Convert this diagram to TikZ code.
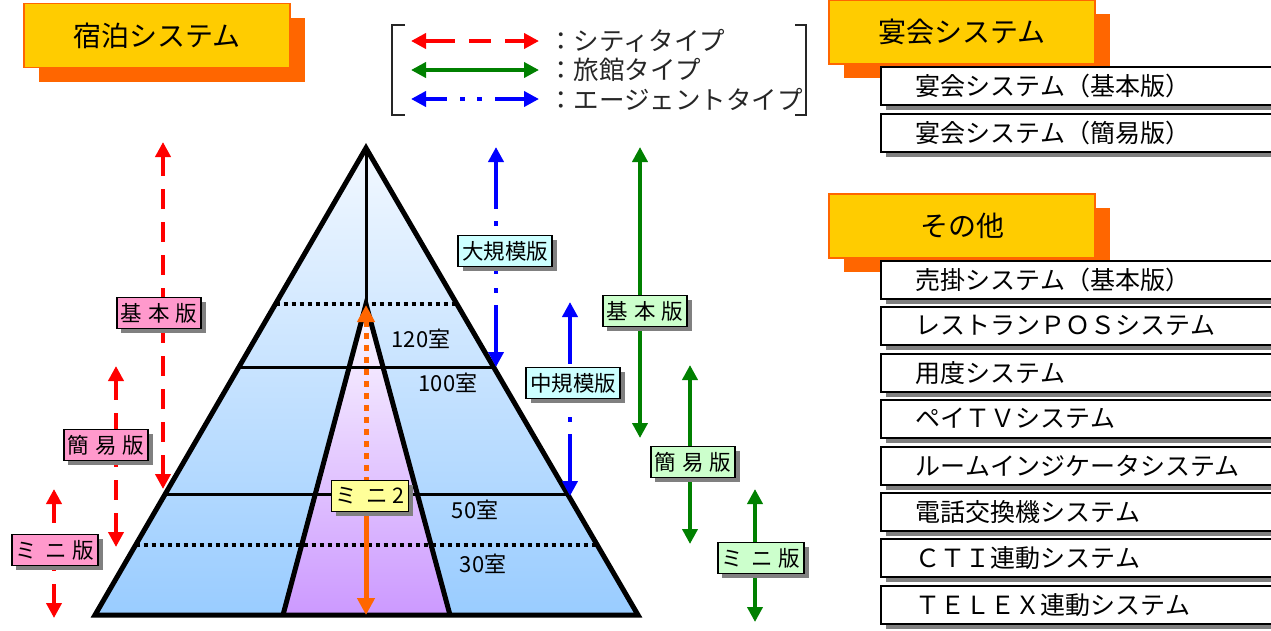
\documentclass[tikz,border=0pt]{standalone}
\usepackage{fontspec}
\setmainfont{Noto Sans CJK JP}
\usetikzlibrary{arrows.meta,shadows}
\definecolor{ttlfill}{RGB}{255,204,0}
\definecolor{ttlorange}{RGB}{255,102,0}
\definecolor{pinkfill}{RGB}{255,153,204}
\definecolor{cyanfill}{RGB}{204,255,255}
\definecolor{greenfill}{RGB}{204,255,204}
\definecolor{yellowfill}{RGB}{255,255,153}
\definecolor{cityred}{RGB}{255,0,0}
\definecolor{ryokangreen}{RGB}{0,128,0}
\definecolor{agentblue}{RGB}{0,0,255}
\definecolor{pyrtop}{RGB}{242,248,255}
\definecolor{pyrbot}{RGB}{153,204,255}
\definecolor{intop}{RGB}{252,250,255}
\definecolor{inbot}{RGB}{204,153,255}
\definecolor{shadowgray}{RGB}{128,128,128}
\tikzset{
  Tr/.tip={Triangle[width=15pt,length=15pt]},
  Tb/.tip={Triangle[width=17pt,length=17pt]},
  titlebox/.style={draw=ttlorange, line width=1.5pt, fill=ttlfill, minimum width=266pt, minimum height=64pt, inner sep=0pt,
    font=\fontsize{28pt}{32pt}\selectfont,
    drop shadow={shadow xshift=15pt, shadow yshift=-14pt, fill=ttlorange, opacity=1}},
  listbox/.style={draw=black, line width=1.5pt, fill=white, anchor=north west, minimum height=38pt, text width=391pt,
    inner xsep=0pt, inner ysep=0pt, align=left, font=\fontsize{25pt}{29pt}\selectfont,
    drop shadow={shadow xshift=5pt, shadow yshift=-5pt, fill=shadowgray, opacity=1}},
  lbl/.style={draw=black, line width=1.8pt, minimum height=31pt, inner xsep=4pt, inner ysep=0pt,
    font=\fontsize{21.5pt}{24pt}\selectfont,
    drop shadow={shadow xshift=4.5pt, shadow yshift=-4.5pt, fill=shadowgray, opacity=1}},
  citylbl/.style={lbl, fill=pinkfill},
  agentlbl/.style={lbl, fill=cyanfill},
  ryokanlbl/.style={lbl, fill=greenfill},
  minilbl/.style={lbl, fill=yellowfill},
  cityline/.style={cityred, line width=4pt, dash pattern=on 20pt off 13pt},
  ryokanline/.style={ryokangreen, line width=4pt},
  agentline/.style={agentblue, line width=4pt, dash pattern=on 48pt off 12pt on 5pt off 14pt on 5pt off 14pt},
  roomtxt/.style={font=\fontsize{22pt}{26pt}\selectfont, inner sep=0pt},
  legtxt/.style={font=\fontsize{25.5pt}{29pt}\selectfont, inner sep=0pt, anchor=west, text=black!85},
}
\begin{document}
\begin{tikzpicture}[x=1pt,y=-1pt]
\useasboundingbox (0,0) rectangle (1271,630);

% ---------- Pyramid ----------
\coordinate (A) at (366,148);
\coordinate (BL) at (95,615);
\coordinate (BR) at (638,615);
\coordinate (IA) at (366,304);
\coordinate (IL) at (283,615);
\coordinate (IR) at (450,615);
\shade[top color=pyrtop, bottom color=pyrbot] (A) -- (BR) -- (BL) -- cycle;
\shade[top color=intop, bottom color=inbot] (IA) -- (IR) -- (IL) -- cycle;
\coordinate (h1l) at (238.9,367); \coordinate (h1r) at (493.6,367);
\coordinate (h2l) at (165.2,494); \coordinate (h2r) at (567.6,494);
\coordinate (d1l) at (275.5,304); \coordinate (d1r) at (456.8,304);
\coordinate (d2l) at (135.6,545); \coordinate (d2r) at (597.2,545);
\draw[line width=3pt] (h1l) -- (h1r);
\draw[line width=3pt] (h2l) -- (h2r);
\draw[line width=3.5pt, dash pattern=on 4pt off 4pt] (d1l) -- (d1r);
\draw[line width=3.5pt, dash pattern=on 4pt off 4pt] (d2l) -- (d2r);
\draw[line width=3pt] (A) -- (IA);
\draw[line width=5pt, line join=miter] (IL) -- (IA) -- (IR);
\draw[line width=5pt, line join=miter] (A) -- (BR) -- (BL) -- cycle;

\node[roomtxt] (r120) at (421,339) {120室};
\node[roomtxt] (r100) at (448,383) {100室};
\node[roomtxt] (r50) at (475,510) {50室};
\node[roomtxt] (r30) at (483,564) {30室};

% ---------- Orange mini2 arrow ----------
\coordinate (ot) at (366,305);
\coordinate (ob) at (366,615);
\node[minilbl] (mini2) at (370,496) {ミ\hspace{9pt}ニ\hspace{5pt}2};
\draw[ttlorange, line width=5pt, dash pattern=on 6pt off 6pt, {Tb}-] (ot) -- (ot |- mini2.north);
\draw[ttlorange, line width=5pt, -{Tb}] (ob |- mini2.south) -- (ob);
\node[minilbl] at (370,496) {ミ\hspace{9pt}ニ\hspace{5pt}2};

% ---------- City (red) ----------
\coordinate (r1t) at (163,142); \coordinate (r1b) at (163,489);
\coordinate (r2t) at (116,366); \coordinate (r2b) at (116,547);
\coordinate (r3t) at (54,489);  \coordinate (r3b) at (54,618);
\node[citylbl] (ck) at (159,313) {基\hspace{6pt}本\hspace{6pt}版};
\node[citylbl] (cs) at (106,445) {簡\hspace{6pt}易\hspace{6pt}版};
\node[citylbl] (cm) at (55,550) {ミ\hspace{8pt}ニ\hspace{6pt}版};
\draw[cityline, {Tr}-] (r1t) -- (r1t |- ck.north);
\draw[cityline, {Tr}-] (r1b) -- (r1b |- ck.south);
\draw[cityline, {Tr}-] (r2t) -- (r2t |- cs.north);
\draw[cityline, {Tr}-] (r2b) -- (r2b |- cs.south);
\draw[cityline, {Tr}-] (r3t) -- (r3t |- cm.north);
\draw[cityline, {Tr}-] (r3b) -- (r3b |- cm.south);
\node[citylbl] at (159,313) {基\hspace{6pt}本\hspace{6pt}版};
\node[citylbl] at (106,445) {簡\hspace{6pt}易\hspace{6pt}版};
\node[citylbl] at (55,550) {ミ\hspace{8pt}ニ\hspace{6pt}版};

% ---------- Agent (blue) ----------
\coordinate (b1t) at (496,147); \coordinate (b1b) at (496,367);
\coordinate (b2t) at (570,302); \coordinate (b2b) at (570,496);
\node[agentlbl] (al) at (505,251) {大規模版};
\node[agentlbl] (am) at (573,383) {中規模版};
\draw[agentline, {Tr}-] (b1t) -- (b1t |- al.north);
\draw[agentline, {Tr}-] (b1b) -- (b1b |- al.south);
\draw[agentline, {Tr}-] (b2t) -- (b2t |- am.north);
\draw[agentline, {Tr}-] (b2b) -- (b2b |- am.south);
\node[agentlbl] at (505,251) {大規模版};
\node[agentlbl] at (573,383) {中規模版};

% ---------- Ryokan (green) ----------
\coordinate (g1t) at (640,147); \coordinate (g1b) at (640,438);
\coordinate (g2t) at (690,365); \coordinate (g2b) at (690,544);
\coordinate (g3t) at (755,489); \coordinate (g3b) at (755,622);
\node[ryokanlbl] (gk) at (645,311) {基\hspace{6pt}本\hspace{6pt}版};
\node[ryokanlbl] (gs) at (693,462) {簡\hspace{6pt}易\hspace{6pt}版};
\node[ryokanlbl] (gm) at (761,558) {ミ\hspace{8pt}ニ\hspace{6pt}版};
\draw[ryokanline, {Tr}-] (g1t) -- (g1t |- gk.north);
\draw[ryokanline, {Tr}-] (g1b) -- (g1b |- gk.south);
\draw[ryokanline, {Tr}-] (g2t) -- (g2t |- gs.north);
\draw[ryokanline, {Tr}-] (g2b) -- (g2b |- gs.south);
\draw[ryokanline, {Tr}-] (g3t) -- (g3t |- gm.north);
\draw[ryokanline, {Tr}-] (g3b) -- (g3b |- gm.south);
\node[ryokanlbl] at (645,311) {基\hspace{6pt}本\hspace{6pt}版};
\node[ryokanlbl] at (693,462) {簡\hspace{6pt}易\hspace{6pt}版};
\node[ryokanlbl] at (761,558) {ミ\hspace{8pt}ニ\hspace{6pt}版};

% ---------- Legend ----------
\draw[black!85, line width=1.5pt] (405,25) -- (392,25) -- (392,115) -- (405,115);
\draw[black!85, line width=1.5pt] (795,25) -- (806,25) -- (806,115) -- (795,115);
\coordinate (l1a) at (411,41); \coordinate (l1b) at (539,41);
\coordinate (l2a) at (411,70); \coordinate (l2b) at (539,70);
\coordinate (l3a) at (411,99); \coordinate (l3b) at (539,99);
\draw[cityred, line width=4pt, dash pattern=on 30pt off 14pt on 22pt off 14pt, {Tr}-{Tr}] (l1a) -- (l1b);
\draw[ryokanline, {Tr}-{Tr}] (l2a) -- (l2b);
\draw[agentblue, line width=4pt, dash pattern=on 22pt off 13pt on 5pt off 12pt on 5pt off 13pt on 60pt, {Tr}-{Tr}] (l3a) -- (l3b);
\node[legtxt] (t1) at (548,41) {：シティタイプ};
\node[legtxt] (t2) at (548,70) {：旅館タイプ};
\node[legtxt] (t3) at (548,99) {：エージェントタイプ};

% ---------- Title boxes ----------
\node[titlebox] (shuku) at (157,35.5) {宿泊システム};
\node[titlebox] (enkai) at (962,32) {宴会システム};
\node[titlebox] (sonota) at (962,226) {その他};

% ---------- List boxes ----------
\node[listbox] (e1) at (880,66) {\hspace*{35pt}宴会システム（基本版）};
\node[listbox] (e2) at (880,113) {\hspace*{35pt}宴会システム（簡易版）};
\node[listbox] (o1) at (880,260) {\hspace*{35pt}売掛システム（基本版）};
\node[listbox] (o2) at (880,306) {\hspace*{35pt}レストランＰＯＳシステム};
\node[listbox] (o3) at (880,353) {\hspace*{35pt}用度システム};
\node[listbox] (o4) at (880,399) {\hspace*{35pt}ペイＴＶシステム};
\node[listbox] (o5) at (880,446) {\hspace*{35pt}ルームインジケータシステム};
\node[listbox] (o6) at (880,492) {\hspace*{35pt}電話交換機システム};
\node[listbox] (o7) at (880,538) {\hspace*{35pt}ＣＴＩ連動システム};
\node[listbox] (o8) at (880,585) {\hspace*{35pt}ＴＥＬＥＸ連動システム};
\end{tikzpicture}
\end{document}
